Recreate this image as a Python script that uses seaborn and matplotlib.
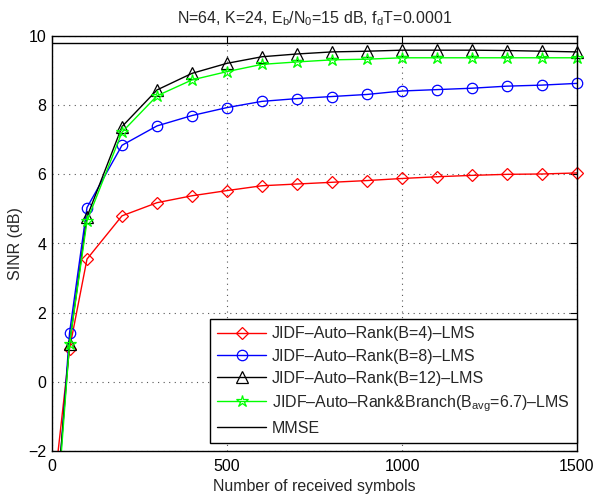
import matplotlib
matplotlib.use("Agg")
import matplotlib.pyplot as plt
from matplotlib.transforms import Bbox
import seaborn as sns
import numpy as np

symbols = [1, 50, 100, 200, 300, 400, 500, 600, 700, 800, 900, 1000, 1100, 1200, 1300, 1400, 1500]
sinr_b4 = [-3.5, 0.95, 3.55, 4.8, 5.18, 5.38, 5.53, 5.67, 5.72, 5.77, 5.82, 5.88, 5.93, 5.97, 6.0, 6.01, 6.04]
sinr_b8 = [-5.5, 1.41, 5.04, 6.84, 7.4, 7.7, 7.93, 8.11, 8.19, 8.25, 8.31, 8.41, 8.45, 8.49, 8.55, 8.58, 8.63]
sinr_b12 = [-5.0, 1.1, 4.77, 7.38, 8.44, 8.92, 9.21, 9.4, 9.48, 9.54, 9.56, 9.59, 9.59, 9.59, 9.58, 9.56, 9.54]
sinr_branch = [-5.5, 1.1, 4.65, 7.22, 8.27, 8.73, 8.97, 9.18, 9.25, 9.31, 9.33, 9.37, 9.37, 9.37, 9.37, 9.37, 9.37]
mmse = 9.8

labels = ["JIDF–Auto–Rank(B=4)–LMS",
          "JIDF–Auto–Rank(B=8)–LMS",
          "JIDF–Auto–Rank(B=12)–LMS",
          r"JIDF–Auto–Rank&Branch(B$_{\mathregular{avg}}$=6.7)–LMS",
          "MMSE"]
title = r"N=64, K=24, E$_\mathregular{b}$/N$_\mathregular{0}$=15 dB, f$_\mathregular{d}$T=0.0001"

sns.set_theme(style="white")
plt.rcParams['font.family'] = ['Liberation Sans', 'DejaVu Sans']
plt.rcParams['mathtext.fontset'] = 'custom'
plt.rcParams['mathtext.rm'] = 'Liberation Sans'
plt.rcParams['mathtext.it'] = 'Liberation Sans'

FS = 11.5
fig = plt.figure(figsize=(5.96, 4.98), dpi=100)
ax = fig.add_axes([52/596, 47/498, 525/596, 415/498])

series = [(sinr_b4, 'red', 'D', 6), (sinr_b8, 'blue', 'o', 7.5),
          (sinr_b12, 'black', '^', 8), (sinr_branch, '#00ff00', '*', 9)]
for (vals, col, mk, ms), lab in zip(series, labels[:4]):
    sns.lineplot(x=symbols, y=vals, ax=ax, color=col, marker=mk, markersize=ms,
                 markerfacecolor='none', markeredgecolor=col, markeredgewidth=0.9,
                 linewidth=1.0, label=lab)
ax.axhline(mmse, color='black', linewidth=1.0, label=labels[4])

ax.set_xlim(0, 1500)
ax.set_ylim(-2, 10)

# clip only at bottom/left; let markers overhang the right and top edges
x0, y0, x1, y1 = 52, 47, 577, 462
clip = Bbox.from_extents(x0, y0, x1 + 12, y1 + 12)
for ln in ax.lines:
    ln.set_clip_box(clip)
    ln.set_clip_on(True)

ax.set_xticks([0, 500, 1000, 1500])
ax.set_yticks([-2, 0, 2, 4, 6, 8, 10])
ax.set_yticklabels(['−2', '0', '2', '4', '6', '8', '10'])
ax.grid(True, linestyle=(0, (1, 4)), color='#555555', linewidth=0.8)
ax.tick_params(direction='in', top=True, right=True, labelsize=FS, length=5, width=0.8,
               colors='black')
ax.tick_params(axis='x', pad=6)
ax.tick_params(axis='y', pad=4)
for s in ax.spines.values():
    s.set_color('black')
    s.set_linewidth(1.0)
ax.set_xlabel("Number of received symbols", fontsize=FS, labelpad=3)
ax.set_ylabel("SINR (dB)", fontsize=FS, labelpad=4)
ax.set_title(title, fontsize=FS, pad=9)

leg = ax.legend(loc='lower right', bbox_to_anchor=(1.0, 8/415), fontsize=FS, fancybox=False,
                framealpha=1, edgecolor='black', borderaxespad=0.0, handlelength=3.1,
                labelspacing=0.45, borderpad=0.45, handletextpad=0.35)
leg.get_frame().set_linewidth(1.0)

fig.savefig("out.png", dpi=100)
